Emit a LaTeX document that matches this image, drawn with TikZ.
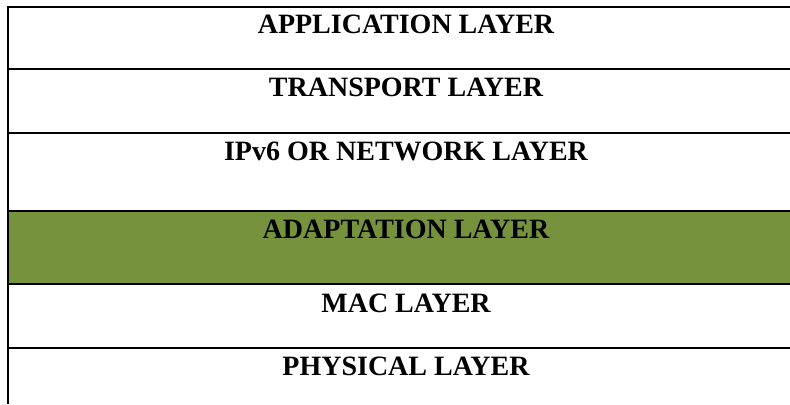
\documentclass[tikz,border=0pt]{standalone}
\usepackage{fontspec}
\setmainfont{Liberation Serif}
\usepackage{tikz}
\usetikzlibrary{positioning}
\definecolor{adaptgreen}{HTML}{76923C}
\begin{document}
\begin{tikzpicture}[
x=0.5pt,y=-0.5pt,
font=\fontsize{14}{16}\selectfont\bfseries,
rule/.style={line width=0.8pt},
layer/.style={inner sep=0pt,anchor=base},
scale=1]
    \useasboundingbox (0,0) rectangle (790,404);
    % Draw green row
    \fill[adaptgreen] (8,211) rectangle (790,284);

    % Draw rules
    \draw
    (8,404) coordinate (bottom)
    (790,7) coordinate (topright);
    \draw[rule] (bottom) |- (topright);
    \draw[line width=1pt] (8,7) -- (topright);
    \foreach \y in {69,133,211,284,348}
        \draw[rule] (8,\y) -- (790,\y);

    \node[layer] (app) at (406,33) {APPLICATION LAYER};
    \node[layer] (trans) at (406,96) {TRANSPORT LAYER};
    \node[layer] (net) at (406,160) {IPv6 OR NETWORK LAYER};
    \node[layer] (adapt) at (406,238) {ADAPTATION LAYER};
    \node[layer] (mac) at (406,312) {MAC LAYER};
    \node[layer] (phy) at (406,375) {PHYSICAL LAYER};
\end{tikzpicture}
\end{document}
